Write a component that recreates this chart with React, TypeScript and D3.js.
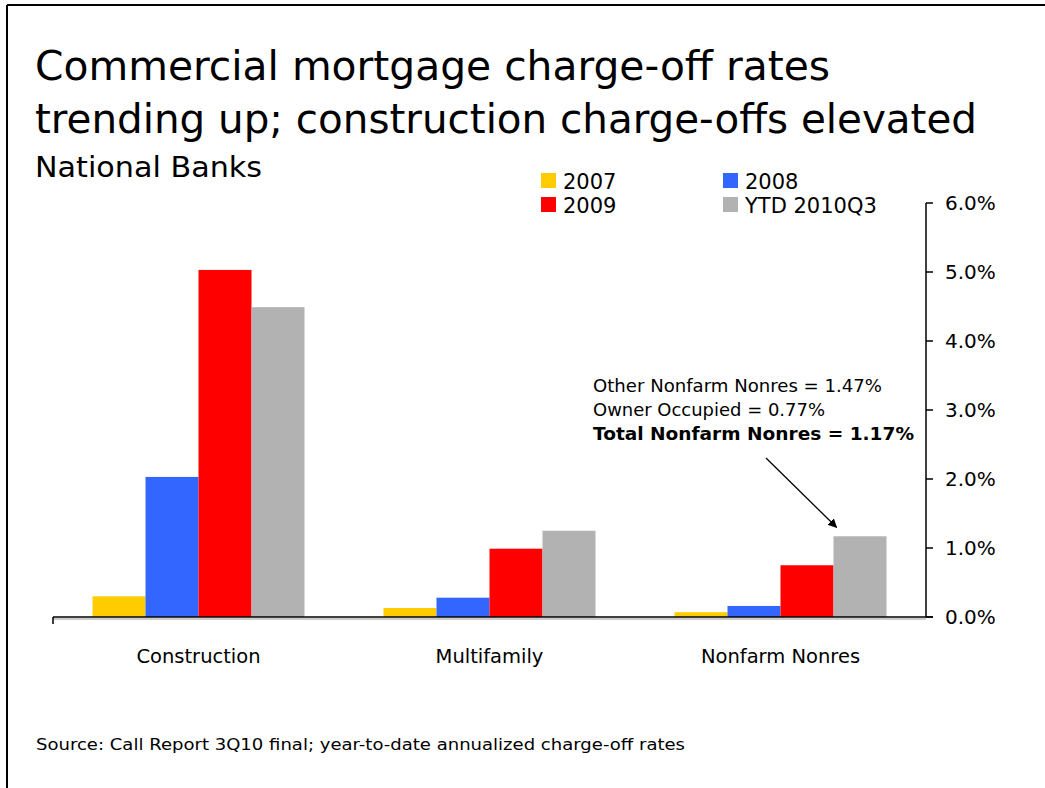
import React from "react";
import * as d3 from "d3";

const categories = ["Construction", "Multifamily", "Nonfarm Nonres"];
const seriesNames = ["2007", "2008", "2009", "YTD 2010Q3"];
const seriesColors = ["#FFCC00", "#3366FF", "#FF0000", "#B2B2B2"];
const values2007 = [0.3, 0.13, 0.07];
const values2008 = [2.03, 0.28, 0.16];
const values2009 = [5.03, 0.99, 0.75];
const valuesYTD = [4.49, 1.25, 1.17];
const yTicks = [0, 1, 2, 3, 4, 5, 6];
const titleLines = [
  "Commercial mortgage charge-off rates",
  "trending up; construction charge-offs elevated",
];
const subtitle = "National Banks";
const annotationLines = [
  "Other Nonfarm Nonres = 1.47%",
  "Owner Occupied = 0.77%",
  "Total Nonfarm Nonres = 1.17%",
];
const sourceText = "Source: Call Report 3Q10 final; year-to-date annualized charge-off rates";

const FONT = "Tahoma, 'DejaVu Sans', Verdana, sans-serif";

export default function App() {
  const W = 1045;
  const H = 788;
  const left = 53;
  const right = 926;
  const y0 = 617;
  const yTop = 203;

  const seriesValues = [values2007, values2008, values2009, valuesYTD];

  const x0 = d3.scaleBand<string>().domain(categories).range([left, right]).padding(0);
  const bw = x0.bandwidth();
  const groupW = 212;
  const x1 = d3
    .scaleBand<string>()
    .domain(seriesNames)
    .range([(bw - groupW) / 2, (bw + groupW) / 2])
    .padding(0);
  const y = d3.scaleLinear().domain([0, 6]).range([y0, yTop]);

  const annCat = "Nonfarm Nonres";
  const tipX = (x0(annCat) as number) + (x1("YTD 2010Q3") as number) + 3;
  const tipY = y(valuesYTD[2]) - 9;

  const titleLens = [795, 942];
  const annLens = [289, 232, 321];

  return (
    <svg width={W} height={H} style={{ display: "block" }} fontFamily={FONT}>
      <style>{"body{margin:0;}"}</style>
      <defs>
        <marker id="arr" viewBox="0 0 10 10" refX="9" refY="5" markerWidth="7" markerHeight="7" orient="auto">
          <path d="M0,0 L10,5 L0,10 z" fill="#000" />
        </marker>
      </defs>
      <rect x={0} y={0} width={W} height={H} fill="#fff" />
      {/* frame */}
      <line x1={7} y1={5} x2={W} y2={5} stroke="#000" strokeWidth={2} />
      <line x1={7} y1={5} x2={7} y2={H} stroke="#000" strokeWidth={2} />

      {/* title */}
      {titleLines.map((t, i) => (
        <text
          key={i}
          x={35}
          y={80 + i * 53}
          fontSize={40}
          fill="#000"
          textLength={titleLens[i]}
          lengthAdjust="spacingAndGlyphs"
        >
          {t}
        </text>
      ))}
      <text x={35} y={177} fontSize={29} fill="#000" textLength={227} lengthAdjust="spacingAndGlyphs">
        {subtitle}
      </text>

      {/* legend */}
      {seriesNames.map((s, i) => {
        const col = i % 2;
        const row = Math.floor(i / 2);
        const lx = 541 + col * 182;
        const ly = 173 + row * 24;
        return (
          <g key={s}>
            <rect x={lx} y={ly} width={15} height={15} fill={seriesColors[i]} />
            <text x={lx + 22} y={ly + 16} fontSize={21} fill="#000">
              {s}
            </text>
          </g>
        );
      })}

      {/* bars */}
      {categories.map((c, ci) => (
        <g key={c} transform={`translate(${x0(c)},0)`}>
          {seriesNames.map((s, si) => {
            const v = seriesValues[si][ci];
            return (
              <rect
                key={s}
                x={x1(s)}
                y={y(v)}
                width={x1.bandwidth()}
                height={y0 - y(v)}
                fill={seriesColors[si]}
              />
            );
          })}
          <text x={bw / 2} y={663} fontSize={19.5} textAnchor="middle" fill="#000">
            {c}
          </text>
        </g>
      ))}

      {/* x axis */}
      <line x1={left} y1={y0 + 2} x2={right} y2={y0 + 2} stroke="#999" strokeWidth={1} />
      <line x1={left} y1={y0} x2={right + 7} y2={y0} stroke="#000" strokeWidth={1.5} />
      <line x1={left} y1={y0} x2={left} y2={y0 + 7} stroke="#000" strokeWidth={1.5} />

      {/* y axis (right) */}
      <line x1={right} y1={yTop} x2={right} y2={y0} stroke="#000" strokeWidth={1.5} />
      {yTicks.map((t) => (
        <g key={t}>
          <line x1={right} y1={y(t)} x2={right + 7} y2={y(t)} stroke="#000" strokeWidth={1.5} />
          <text x={945} y={y(t) + 7} fontSize={20} fill="#000">
            {d3.format(".1f")(t) + "%"}
          </text>
        </g>
      ))}

      {/* annotation */}
      {annotationLines.map((t, i) => (
        <text
          key={i}
          x={593}
          y={392 + i * 24}
          fontSize={17}
          fontWeight={i === 2 ? "bold" : "normal"}
          fill="#000"
          textLength={annLens[i]}
          lengthAdjust="spacingAndGlyphs"
        >
          {t}
        </text>
      ))}
      <line x1={766} y1={458} x2={tipX} y2={tipY} stroke="#000" strokeWidth={1.3} markerEnd="url(#arr)" />

      {/* source */}
      <text x={36} y={750} fontSize={16.5} fill="#000" textLength={649} lengthAdjust="spacingAndGlyphs">
        {sourceText}
      </text>
    </svg>
  );
}
